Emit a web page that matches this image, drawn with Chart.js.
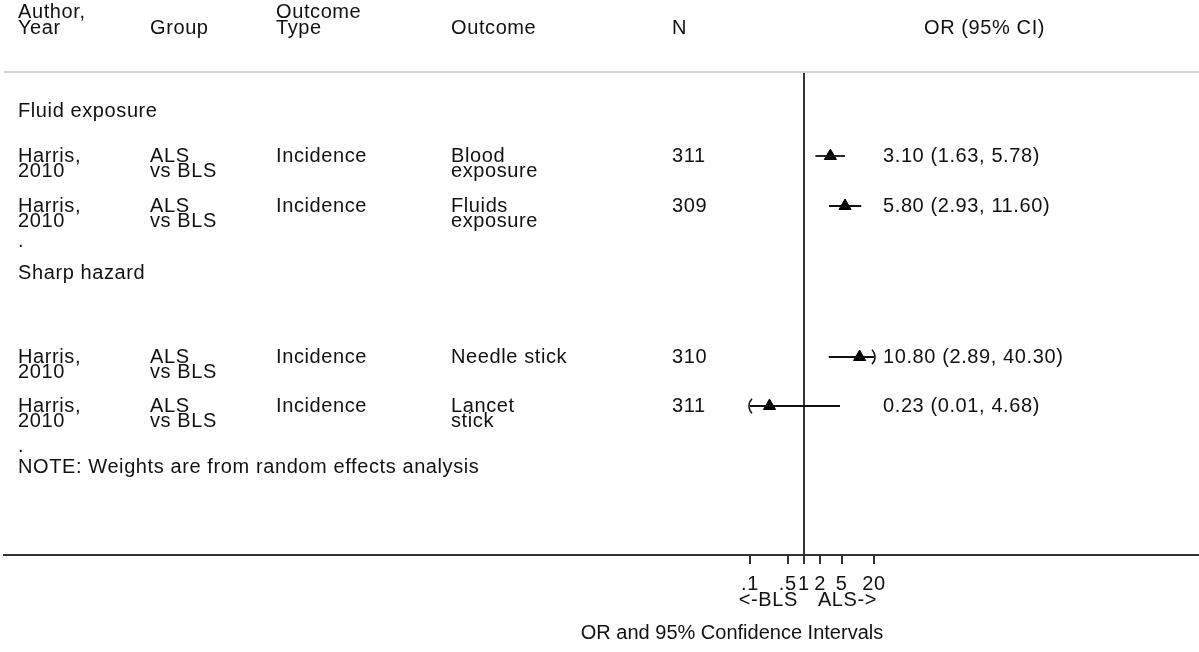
<!DOCTYPE html>
<html>
<head>
<meta charset="utf-8">
<script src="https://cdn.jsdelivr.net/npm/chart.js@4.4.1/dist/chart.umd.min.js"></script>
<style>
  html, body { margin: 0; padding: 0; background: #fff; }
  canvas { display: block; }
</style>
</head>
<body>
<canvas id="forest" width="1199" height="652"></canvas>
<script>
// --- data ---
const headers = [["Author,", "Year"], ["Group"], ["Outcome", "Type"], ["Outcome"], ["N"], ["OR (95% CI)"]];
const subgroups = ["Fluid exposure", "Sharp hazard"];
const studyAuthor = ["Harris,\n2010", "Harris,\n2010", "Harris,\n2010", "Harris,\n2010"];
const studyGroup = ["ALS\nvs BLS", "ALS\nvs BLS", "ALS\nvs BLS", "ALS\nvs BLS"];
const outcomeType = ["Incidence", "Incidence", "Incidence", "Incidence"];
const outcomes = ["Blood\nexposure", "Fluids\nexposure", "Needle stick", "Lancet\nstick"];
const nValues = [311, 309, 310, 311];
const orValues = [3.10, 5.80, 10.80, 0.23];
const lowerCI = [1.63, 2.93, 2.89, 0.01];
const upperCI = [5.78, 11.60, 40.30, 4.68];
const xTicks = [0.1, 0.5, 1, 2, 5, 20];
const xTickLabels = [".1", ".5", "1", "2", "5", "20"];
const note = "NOTE: Weights are from random effects analysis";
const xTitle = "OR and 95% Confidence Intervals";
const favours = ["<-BLS", "ALS->"];

// --- layout (row positions in 10px units below the header line) ---
const subgroupPos = [3.9, 20.1];
const studyPos = [8.4, 13.4, 28.5, 33.4];
const blankPos = [16.9, 37.4];
const notePos = 39.5;
const colX = [18, 150, 276, 451, 672, 883];
const plotLeft = 750, plotRight = 874;       // pixels of .1 and 20
const axisMin = 0.1, axisMax = 20;
const W = 1199, H = 652, areaTop = 72, areaBottom = 555, areaLeft = 4;

const perDecade = (plotRight - plotLeft) / Math.log10(axisMax / axisMin);
const logMin = Math.log10(axisMin) - (plotLeft - areaLeft) / perDecade;
const logMax = Math.log10(axisMin) + (W - plotLeft) / perDecade;

const FAMILY = '"Liberation Sans", Arial, sans-serif';
const FONT = '20px ' + FAMILY;
const SPACING = '0.6px';
const INK = '#111';

const clip = v => Math.min(axisMax, Math.max(axisMin, v));

const ciSets = orValues.map((v, i) => ({
  type: 'scatter',
  showLine: true,
  data: [{x: clip(lowerCI[i]), y: studyPos[i]}, {x: clip(upperCI[i]), y: studyPos[i]}],
  borderColor: '#111',
  borderWidth: 1.8,
  pointRadius: 0
}));

const textPlugin = {
  id: 'forestText',
  beforeDraw(chart) {
    chart.ctx.letterSpacing = SPACING;
  },
  afterDraw(chart) {
    const ctx = chart.ctx;
    const y = chart.scales.y, x = chart.scales.x;
    ctx.save();
    ctx.letterSpacing = SPACING;
    ctx.font = FONT;
    ctx.fillStyle = INK;
    ctx.textBaseline = 'middle';
    ctx.textAlign = 'left';

    // header
    headers.forEach((lines, c) => {
      lines.forEach((t, k) => {
        const yy = 28 - (lines.length - 1 - k) * 16;
        const xx = c === 5 ? 924 : colX[c];
        ctx.fillText(t, xx, yy);
      });
    });
    ctx.strokeStyle = '#d2d2d2';
    ctx.lineWidth = 2;
    ctx.beginPath();
    ctx.moveTo(areaLeft, areaTop);
    ctx.lineTo(W, areaTop);
    ctx.stroke();

    subgroups.forEach((s, i) => ctx.fillText(s, colX[0], y.getPixelForValue(subgroupPos[i])));
    blankPos.forEach(p => ctx.fillText('.', colX[0], y.getPixelForValue(p)));

    const lineGap = 15;
    orValues.forEach((v, i) => {
      const yy = y.getPixelForValue(studyPos[i]);
      const cells = [studyAuthor[i], studyGroup[i], outcomeType[i], outcomes[i], String(nValues[i]),
        v.toFixed(2) + ' (' + lowerCI[i].toFixed(2) + ', ' + upperCI[i].toFixed(2) + ')'];
      cells.forEach((cell, c) => {
        cell.split('\n').forEach((t, k) => ctx.fillText(t, colX[c], yy + k * lineGap));
      });
      // truncation arrows
      ctx.strokeStyle = '#111';
      ctx.lineWidth = 1.5;
      if (upperCI[i] > axisMax) {
        const px = x.getPixelForValue(axisMax);
        ctx.beginPath();
        ctx.arc(px - 9, yy, 10, -0.8, 0.8);
        ctx.stroke();
      }
      if (lowerCI[i] < axisMin) {
        const px = x.getPixelForValue(axisMin);
        ctx.beginPath();
        ctx.arc(px + 9, yy, 10, Math.PI - 0.8, Math.PI + 0.8);
        ctx.stroke();
      }
    });

    ctx.fillText(note, colX[0], y.getPixelForValue(notePos));

    // favours labels and axis title
    const one = x.getPixelForValue(1);
    ctx.textAlign = 'right';
    ctx.fillText(favours[0], one - 6, 600);
    ctx.textAlign = 'left';
    ctx.fillText(favours[1], one + 14, 600);
    ctx.textAlign = 'center';
    ctx.letterSpacing = '0px';
    ctx.fillText(xTitle, 732, 633);
    ctx.restore();
  }
};

new Chart(document.getElementById('forest'), {
  type: 'scatter',
  data: {
    datasets: [
      ...ciSets,
      {
        type: 'scatter',
        data: orValues.map((v, i) => ({x: v, y: studyPos[i]})),
        pointStyle: 'triangle',
        pointRadius: 7,
        backgroundColor: '#000',
        borderColor: '#000',
        borderWidth: 1
      }
    ]
  },
  options: {
    responsive: false,
    animation: false,
    devicePixelRatio: 1,
    layout: {
      autoPadding: false,
      padding: { top: areaTop, left: areaLeft, right: 0, bottom: 0 }
    },
    plugins: { legend: { display: false }, tooltip: { enabled: false } },
    scales: {
      x: {
        type: 'logarithmic',
        min: Math.pow(10, logMin),
        max: Math.pow(10, logMax),
        afterBuildTicks: axis => { axis.ticks = xTicks.map(v => ({ value: v })); },
        afterFit: axis => {
          axis.height = H - areaBottom;
          axis.paddingLeft = 0;
          axis.paddingRight = 0;
        },
        border: { display: true, color: '#333', width: 2 },
        grid: {
          drawOnChartArea: true,
          color: c => (c.tick && c.tick.value === 1 ? '#333' : 'rgba(0,0,0,0)'),
          lineWidth: 2,
          tickLength: 9,
          tickColor: '#333'
        },
        ticks: {
          autoSkip: false,
          maxRotation: 0,
          minRotation: 0,
          padding: 8,
          color: INK,
          font: { family: FAMILY, size: 20 },
          callback: v => xTickLabels[xTicks.indexOf(v)]
        }
      },
      y: {
        type: 'linear',
        display: false,
        reverse: true,
        min: 0,
        max: (areaBottom - areaTop) / 10
      }
    }
  },
  plugins: [textPlugin]
});
</script>
</body>
</html>
